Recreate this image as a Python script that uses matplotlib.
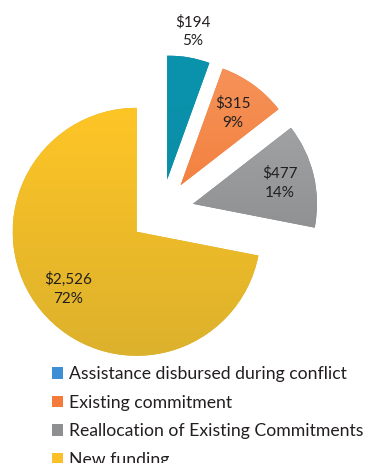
import numpy as np
import matplotlib
matplotlib.use("Agg")
import matplotlib.pyplot as plt
from matplotlib.colors import LinearSegmentedColormap
from matplotlib.patches import Patch

plt.rcParams['font.family'] = ['Lato', 'DejaVu Sans']

categories = ["Assistance disbursed during conflict", "Existing commitment",
              "Reallocation of Existing Commitments", "New funding"]
amounts = [194, 315, 477, 2526]
amount_labels = ["$194", "$315", "$477", "$2,526"]
pct_labels = ["5%", "9%", "14%", "72%"]

# top / bottom shades for each slice, plus flat legend swatches
top_colors = ["#0b93ad", "#f6935a", "#a7a9ab", "#fec526"]
bottom_colors = ["#0a8aa3", "#ef7127", "#7f8183", "#dcb12c"]
legend_colors = ["#3d8fd5", "#f47b3a", "#8d8f91", "#fbbf2a"]

fig = plt.figure(figsize=(3.66, 4.63), dpi=100)
ax = fig.add_axes([0, 0, 1, 1])

wedges, _ = ax.pie(amounts, explode=[0.26] * 4, startangle=90, counterclock=False,
                   colors=bottom_colors, wedgeprops={'linewidth': 0})

# vertical gradient fill clipped to each wedge
grad = np.linspace(0, 1, 256).reshape(-1, 1)
for w, c0, c1 in zip(wedges, top_colors, bottom_colors):
    cmap = LinearSegmentedColormap.from_list("g", [c1, c0])
    cx, cy = w.center
    im = ax.imshow(grad, cmap=cmap, origin="lower", aspect="auto",
                   extent=[cx - 1, cx + 1, cy - 1, cy + 1], zorder=w.get_zorder())
    im.set_clip_path(w)

# value labels; the small slice gets its label outside
for w, amt, pct in zip(wedges, amount_labels, pct_labels):
    mid = np.deg2rad((w.theta1 + w.theta2) / 2)
    frac = (w.theta2 - w.theta1) / 360
    d = 1.21 if frac < 0.07 else 0.72
    cx, cy = w.center
    ax.text(cx + d * np.cos(mid), cy + d * np.sin(mid), f"{amt}\n{pct}",
            ha="center", va="center", fontsize=11, color="#231f20",
            linespacing=1.45, zorder=5)

ax.set_xlim(-1.303, 1.648)
ax.set_ylim(-2.030, 1.704)
ax.set_aspect("auto")
ax.axis("off")

handles = [Patch(facecolor=c, edgecolor="none") for c in legend_colors]
leg = ax.legend(handles, categories, loc="upper left",
                bbox_to_anchor=(52 / 366, 1 - 366 / 463), bbox_transform=fig.transFigure,
                frameon=False, fontsize=12.7, borderpad=0, borderaxespad=0,
                handlelength=0.62, handleheight=0.62, handletextpad=0.33,
                labelspacing=0.72, labelcolor="#231f20")

fig.savefig("out.png", dpi=100)
